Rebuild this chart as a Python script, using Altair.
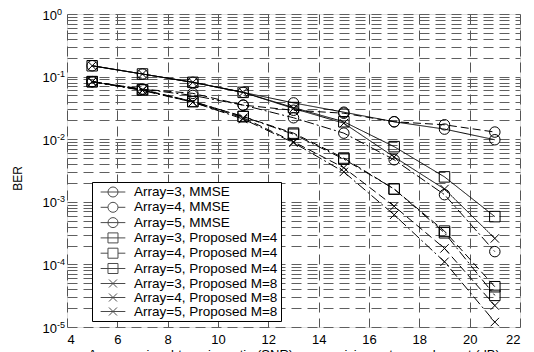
import altair as alt
import pandas as pd

# ---------------- data ----------------
snr = [5, 7, 9, 11, 13, 15, 17, 19, 21]

arr3_mmse = [0.149, 0.110, 0.081, 0.056, 0.038, 0.027, 0.019, 0.0145, 0.0098]
arr4_mmse = [0.083, 0.063, 0.054, 0.035, 0.029, 0.026, 0.019, 0.017, 0.013]
arr5_mmse = [0.083, 0.063, 0.050, 0.035, 0.022, 0.0125, 0.0047, 0.0013, 1.6e-4]
arr3_m4 = [0.149, 0.110, 0.081, 0.056, 0.032, 0.019, 0.0076, 0.0025, 5.8e-4]
arr4_m4 = [0.083, 0.062, 0.040, 0.023, 0.0125, 0.0050, 0.0016, 3.4e-4, 4.4e-5]
arr5_m4 = [0.083, 0.061, 0.040, 0.023, 0.0120, 0.0048, 0.0016, 3.2e-4, 3.2e-5]
arr3_m8 = [0.149, 0.110, 0.081, 0.056, 0.031, 0.018, 0.0052, 0.0016, 2.6e-4]
arr4_m8 = [0.083, 0.061, 0.039, 0.022, 0.0091, 0.0035, 8.5e-4, 1.8e-4, 2.2e-5]
arr5_m8 = [0.083, 0.060, 0.039, 0.021, 0.0088, 0.0030, 6.2e-4, 1.1e-4, 1.2e-5]

labels = [
    "Array=3, MMSE", "Array=4, MMSE", "Array=5, MMSE",
    "Array=3, Proposed M=4", "Array=4, Proposed M=4", "Array=5, Proposed M=4",
    "Array=3, Proposed M=8", "Array=4, Proposed M=8", "Array=5, Proposed M=8",
]
methods = ["MMSE", "MMSE", "MMSE", "M4", "M4", "M4", "M8", "M8", "M8"]
arrays = ["a3", "a4", "a5"] * 3
values = [arr3_mmse, arr4_mmse, arr5_mmse, arr3_m4, arr4_m4, arr5_m4,
          arr3_m8, arr4_m8, arr5_m8]

x_ticks = [4, 6, 8, 10, 12, 14, 16, 18, 20, 22]
decades = [1.0, 1e-1, 1e-2, 1e-3, 1e-4, 1e-5]
exponents = ["0", "-1", "-2", "-3", "-4", "-5"]

# ---------------- tables ----------------
rows = []
for lab, m, a, vals in zip(labels, methods, arrays, values):
    for x, v in zip(snr, vals):
        rows.append({"label": lab, "method": m, "arr": a, "snr": x, "ber": v})
df = pd.DataFrame(rows)

minor = []
for e in range(-5, 0):
    for k in range(1, 10):
        minor.append(float(f"{k}e{e}"))
minor.append(1.0)

dec_df = pd.DataFrame({"snr": [4.0] * len(decades), "ber": decades, "exp": exponents})
leg_df = pd.DataFrame({"label": labels})

FONT = "Liberation Sans"
x_scale = alt.Scale(domain=[4, 22], nice=False, zero=False)
y_scale = alt.Scale(type="log", domain=[1e-5, 1], nice=False)

x_axis = alt.Axis(values=x_ticks, grid=True, gridDash=[10, 6], gridColor="#555555",
                  gridWidth=1, ticks=False, domain=False, labelFont=FONT,
                  labelFontSize=13, labelColor="black", labelPadding=6,
                  title="Average signal-to-noise ratio (SNR) per receiving antenna element (dB)",
                  titleFont=FONT, titleFontSize=13, titleFontWeight="normal",
                  titleColor="black", titleBaseline="top", titleY=21)
y_axis = alt.Axis(values=minor, grid=True, gridDash=[10, 6], gridColor="#5f5f5f",
                  gridWidth=1, ticks=False, labels=False, domain=False,
                  title="BER", titleFont=FONT, titleFontSize=12,
                  titleFontWeight="normal", titleColor="black", titleAngle=270,
                  titleX=-50, titleY=164, titleAlign="center", titleBaseline="middle")

X = alt.X("snr:Q", scale=x_scale, axis=x_axis)
Y = alt.Y("ber:Q", scale=y_scale, axis=y_axis)

lines = alt.Chart(df).mark_line(color="black", strokeWidth=1, clip=True).encode(
    x=X, y=Y, detail="label:N",
    strokeDash=alt.StrokeDash("arr:N", scale=alt.Scale(
        domain=["a3", "a4", "a5"], range=[[1, 0], [8, 4], [10, 3, 2, 3]]), legend=None),
)

xpath = "M-0.8,-0.8L0.8,0.8M0.8,-0.8L-0.8,0.8"
points = alt.Chart(df).mark_point(filled=False, color="black", strokeWidth=1,
                                  size=110, opacity=1).encode(
    x=X, y=Y,
    shape=alt.Shape("method:N", scale=alt.Scale(
        domain=["MMSE", "M4", "M8"], range=["circle", "square", xpath]), legend=None),
)

# legend symbols: line stub + marker
c, L, r, xr = 1.69, 1.9, 0.77, 0.62
circ = f"M{c+r},0A{r},{r} 0 1,1 {c-r},0A{r},{r} 0 1,1 {c+r},0"
sq = f"M{c-r},{-r}H{c+r}V{r}H{c-r}Z"
xx = f"M{c-xr},{-xr}L{c+xr},{xr}M{c+xr},{-xr}L{c-xr},{xr}"
through = f"M{c-L},0H{c+L}"
stubs = f"M{c-L},0H{c-r}M{c+r},0H{c+L}"
leg_paths = [through + circ, stubs + circ, through + circ,
             through + sq, stubs + sq, through + sq,
             through + xx, through + xx, through + xx]

legend_layer = alt.Chart(leg_df).mark_point(filled=False, color="black",
                                            strokeWidth=1, clip=True).encode(
    x=alt.value(0), y=alt.value(-200),
    shape=alt.Shape("label:N", scale=alt.Scale(domain=labels, range=leg_paths),
                    legend=alt.Legend(orient="none", legendX=25, legendY=168,
                                      title=None, fillColor="white",
                                      strokeColor="black", padding=3,
                                      cornerRadius=0, labelFont=FONT,
                                      labelFontSize=13.5, labelColor="black",
                                      labelOffset=25, labelLimit=300,
                                      labelExpr="datum.label + '   '",
                                      symbolSize=169, symbolStrokeWidth=1,
                                      symbolStrokeColor="black",
                                      symbolFillColor="transparent",
                                      rowPadding=-0.7)),
)

base_txt = alt.Chart(dec_df).mark_text(font=FONT, fontSize=13, color="black",
                                       align="right", baseline="middle", dy=1.5).encode(
    x=alt.value(-10), y=Y, text=alt.value("10"))
exp_txt = alt.Chart(dec_df).mark_text(font=FONT, fontSize=9, color="black",
                                      align="left", baseline="top", dy=-6.5).encode(
    x=alt.value(-10), y=Y, text="exp:N")

chart = alt.layer(lines, points, base_txt, exp_txt, legend_layer).resolve_scale(
    shape="independent"
).properties(
    width=453, height=313,
    autosize=alt.AutoSizeParams(type="none"),
    padding={"left": 59, "top": 6, "right": 6, "bottom": 25},
).configure_view(stroke="black", strokeWidth=1.2).configure(background="white")

chart.save("out.html", embed_options={"renderer": "svg", "actions": False})
